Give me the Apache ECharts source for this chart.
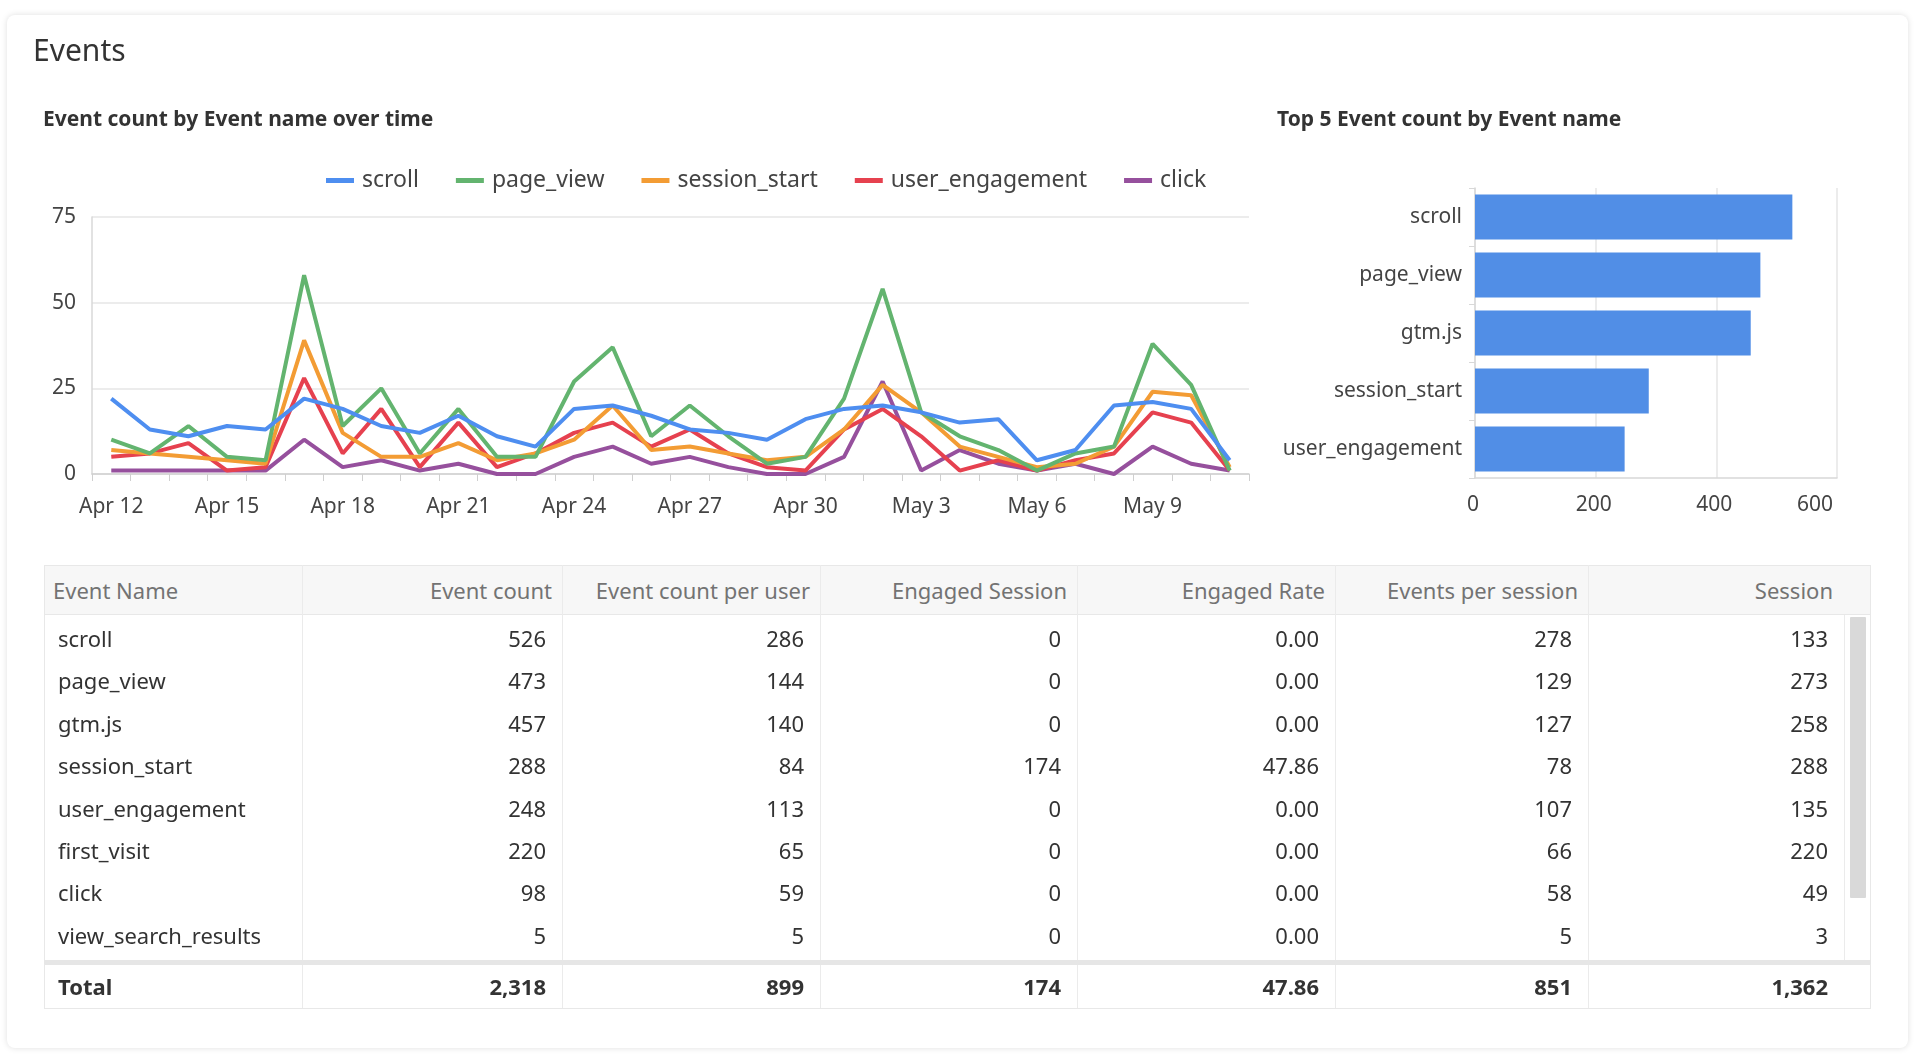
<!DOCTYPE html>
<html>
<head>
<meta charset="utf-8">
<script src="https://cdn.jsdelivr.net/npm/echarts@6/dist/echarts.min.js"></script>
<style>
  html, body { margin:0; padding:0; width:1920px; height:1060px; background:#ffffff; overflow:hidden; font-family:"Noto Sans", sans-serif; }
  #card { position:absolute; left:7px; top:15px; width:1901px; height:1033px; background:#fff; border-radius:8px; box-shadow:0 0 6px rgba(0,0,0,0.13); }
  #chart { position:absolute; left:0; top:0; width:1920px; height:1060px; }
  #table { position:absolute; left:44px; top:565px; width:1827px; font-size:22px; color:#333; }
  .hdr { position:absolute; left:0; top:0; height:50px; width:1827px; background:#f7f7f7; border:1px solid #e8e8e8; box-sizing:border-box; }
  .cell { position:absolute; box-sizing:border-box; white-space:nowrap; overflow:hidden; }
  .vline { position:absolute; width:1px; background:#ebebeb; }
</style>
</head>
<body>
<div id="card"></div>
<div id="chart"></div>
<div id="table"></div>
<script>
// ---------------- data ----------------
var dates = ['Apr 12','Apr 13','Apr 14','Apr 15','Apr 16','Apr 17','Apr 18','Apr 19','Apr 20','Apr 21',
             'Apr 22','Apr 23','Apr 24','Apr 25','Apr 26','Apr 27','Apr 28','Apr 29','Apr 30','May 1',
             'May 2','May 3','May 4','May 5','May 6','May 7','May 8','May 9','May 10','May 11'];
var seriesNames = ['scroll','page_view','session_start','user_engagement','click'];
var scrollVals = [22,13,11,14,13,22,19,14,12,17,11,8,19,20,17,13,12,10,16,19,20,18,15,16,4,7,20,21,19,4];
var pageViewVals = [10,6,14,5,4,58,14,25,6,19,5,5,27,37,11,20,11,3,5,22,54,18,11,7,1,6,8,38,26,1];
var sessionStartVals = [7,6,5,4,3,39,12,5,5,9,4,6,10,20,7,8,6,4,5,13,26,18,8,5,2,3,8,24,23,2];
var userEngagementVals = [5,6,9,1,2,28,6,19,2,15,2,6,12,15,8,13,6,2,1,13,19,11,1,4,1,4,6,18,15,1];
var clickVals = [1,1,1,1,1,10,2,4,1,3,0,0,5,8,3,5,2,0,0,5,27,1,7,3,1,3,0,8,3,1];
var lineColors = ['#4e8ef0','#63b46f','#f39c34','#e6414f','#96509d'];

var barCats = ['scroll','page_view','gtm.js','session_start','user_engagement'];
var barVals = [526,473,457,288,248];

var tableCols = ['Event Name','Event count','Event count per user','Engaged Session','Engaged Rate','Events per session','Session'];
var rowNames = ['scroll','page_view','gtm.js','session_start','user_engagement','first_visit','click','view_search_results'];
var colEventCount = ['526','473','457','288','248','220','98','5'];
var colPerUser = ['286','144','140','84','113','65','59','5'];
var colEngagedSession = ['0','0','0','174','0','0','0','0'];
var colEngagedRate = ['0.00','0.00','0.00','47.86','0.00','0.00','0.00','0.00'];
var colEventsPerSession = ['278','129','127','78','107','66','58','5'];
var colSession = ['133','273','258','288','135','220','49','3'];
var totalsRow = ['Total','2,318','899','174','47.86','851','1,362'];

// ---------------- chart ----------------
var chart = echarts.init(document.getElementById('chart'), null, {renderer:'canvas'});
var lineData = [scrollVals, pageViewVals, sessionStartVals, userEngagementVals, clickVals];
var series = seriesNames.map(function(n, i){
  return { name:n, type:'line', xAxisIndex:0, yAxisIndex:0, data:lineData[i], symbol:'none',
           lineStyle:{ width:4, color:lineColors[i] }, itemStyle:{ color:lineColors[i] }, z: 10 - i };
});
series.push({ type:'bar', xAxisIndex:1, yAxisIndex:1, data:barVals, barCategoryGap:'22%',
              itemStyle:{ color:'#518ee6' } });

var FONT = '"Noto Sans", sans-serif';
chart.setOption({
  animation:false,
  textStyle:{ fontFamily:FONT },
  title:[
    { text:'Events', left:33, top:37, padding:0, textStyle:{ fontSize:30, fontWeight:'normal', color:'#333', fontFamily:FONT } },
    { text:'Event count by Event name over time', left:43, top:110, padding:0, textStyle:{ fontSize:21, fontWeight:'bold', color:'#333', fontFamily:FONT } },
    { text:'Top 5 Event count by Event name', left:1277, top:110, padding:0, textStyle:{ fontSize:21, fontWeight:'bold', color:'#333', fontFamily:FONT } }
  ],
  legend:{ data:seriesNames, left:326, top:169, padding:0, icon:'rect', itemWidth:28, itemHeight:5, itemGap:37,
           textStyle:{ fontSize:23, color:'#444', fontFamily:FONT, padding:[0,0,0,3] } },
  grid:[
    { left:92, top:217, width:1157, height:257 },
    { left:1475, top:188, width:362, height:290 }
  ],
  xAxis:[
    { type:'category', gridIndex:0, data:dates, boundaryGap:true,
      axisLine:{ show:true, lineStyle:{ color:'#cfcfcf', width:1.5 } },
      axisTick:{ show:true, interval:0, length:7, lineStyle:{ color:'#cfcfcf' } },
      axisLabel:{ interval:2, fontSize:21, color:'#444', margin:23, fontFamily:FONT } },
    { type:'value', gridIndex:1, min:0, max:600, interval:200,
      axisLine:{ show:true, lineStyle:{ color:'#d8d8d8', width:1.5 } },
      axisTick:{ show:false },
      splitLine:{ show:true, lineStyle:{ color:'#e6e6e6', width:1.5 } },
      axisLabel:{ fontSize:21, color:'#444', margin:17, fontFamily:FONT, alignMaxLabel:'right', padding:[0,4,0,0] } }
  ],
  yAxis:[
    { type:'value', gridIndex:0, min:0, max:75, interval:25,
      axisLine:{ show:true, lineStyle:{ color:'#d8d8d8', width:1.5 } },
      axisTick:{ show:false },
      splitLine:{ show:true, lineStyle:{ color:'#e6e6e6', width:1.5 } },
      axisLabel:{ fontSize:21, color:'#444', margin:16, fontFamily:FONT } },
    { type:'category', gridIndex:1, data:barCats, inverse:true,
      axisLine:{ show:true, lineStyle:{ color:'#d8d8d8', width:1.5 } },
      axisTick:{ show:true, length:6, lineStyle:{ color:'#d8d8d8' } },
      axisLabel:{ fontSize:21, color:'#444', margin:13, fontFamily:FONT } }
  ],
  series:series
});

// ---------------- table ----------------
var tbl = document.getElementById('table');
var colX = [0,258,518,776,1033,1291,1544,1827]; // relative to table left (44)
var bodyRight = 1800; // scroll area edge
function addCell(parent, text, x, w, top, h, align, padL, padR, style){
  var d = document.createElement('div');
  d.className = 'cell';
  d.textContent = text;
  d.style.left = x + 'px'; d.style.width = w + 'px';
  d.style.top = top + 'px'; d.style.height = h + 'px'; d.style.lineHeight = h + 'px';
  d.style.textAlign = align; d.style.paddingLeft = padL + 'px'; d.style.paddingRight = padR + 'px';
  if (style) for (var k in style) d.style[k] = style[k];
  parent.appendChild(d);
}
function vline(x, top, h){
  var v = document.createElement('div'); v.className='vline';
  v.style.left = x + 'px'; v.style.top = top + 'px'; v.style.height = h + 'px';
  tbl.appendChild(v);
}
var hdr = document.createElement('div'); hdr.className = 'hdr'; tbl.appendChild(hdr);
tableCols.forEach(function(c, i){
  var w = colX[i+1] - colX[i];
  addCell(tbl, c, colX[i], w, 0, 50, i===0?'left':'right', i===0?9:0, i===6?38:10, { color:'#737373' });
});
var bodyCols = [rowNames, colEventCount, colPerUser, colEngagedSession, colEngagedRate, colEventsPerSession, colSession];
var rowH = 42.4, bodyTop = 52;
for (var r = 0; r < rowNames.length; r++){
  for (var c = 0; c < bodyCols.length; c++){
    var right = (c===6) ? bodyRight : colX[c+1];
    addCell(tbl, bodyCols[c][r], colX[c], right - colX[c], bodyTop + r*rowH, rowH, c===0?'left':'right', c===0?14:0, 16, null);
  }
}
var bodyH = rowNames.length * rowH + 6;
// outer borders
var outer = document.createElement('div');
outer.style.cssText = 'position:absolute;left:0;top:49px;width:1827px;height:' + (bodyH + 1) + 'px;border-left:1px solid #e8e8e8;border-right:1px solid #e8e8e8;box-sizing:border-box;';
tbl.appendChild(outer);
for (var i = 1; i < 7; i++) vline(colX[i], 0, 443);
vline(bodyRight, 50, bodyH);
// scrollbar thumb
var thumb = document.createElement('div');
thumb.style.cssText = 'position:absolute;left:1806px;top:52px;width:16px;height:281px;background:#d9d9d9;border-radius:1px;';
tbl.appendChild(thumb);
// separator
var sep = document.createElement('div');
sep.style.cssText = 'position:absolute;left:0;top:' + (50 + bodyH) + 'px;width:1827px;height:5px;background:#e6e6e6;';
tbl.appendChild(sep);
var totTop = 54 + bodyH;
totalsRow.forEach(function(t, i){
  addCell(tbl, t, colX[i], colX[i+1] - colX[i], totTop, 44, i===0?'left':'right', i===0?14:0, i===6?43:16, { fontWeight:'bold' });
});
var bot = document.createElement('div');
bot.style.cssText = 'position:absolute;left:0;top:' + totTop + 'px;width:1827px;height:45px;border:1px solid #e8e8e8;border-top:none;box-sizing:border-box;';
tbl.appendChild(bot);
</script>
</body>
</html>
